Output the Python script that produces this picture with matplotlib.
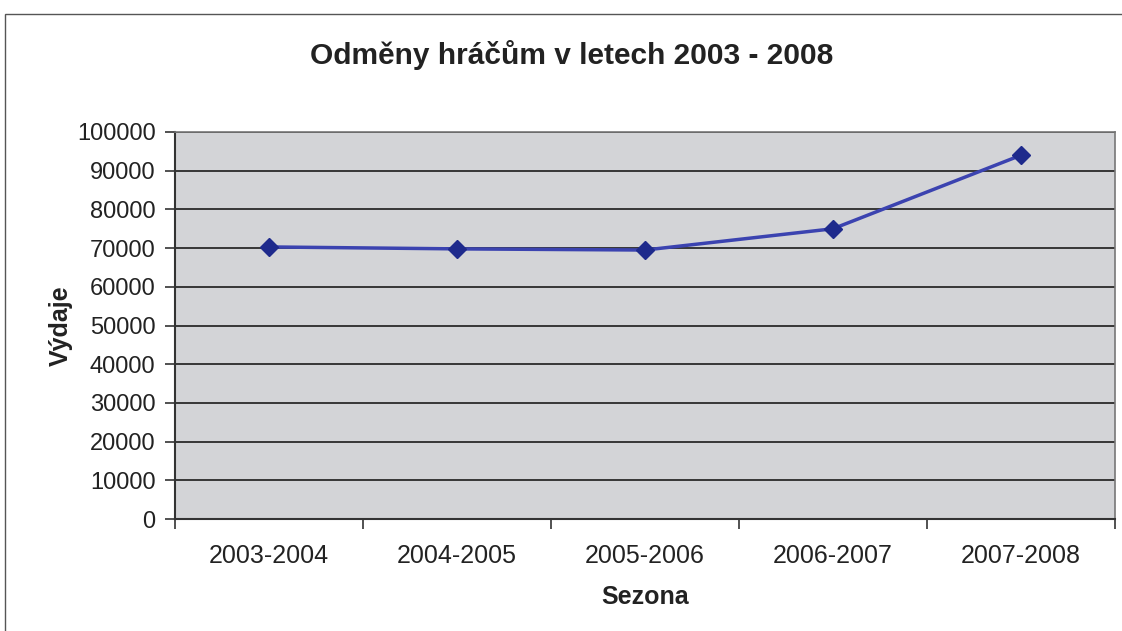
#!/usr/bin/env python
import matplotlib
matplotlib.use ('Agg')
import matplotlib.pyplot as plt
from matplotlib.patches import Rectangle

seasons = ['2003-2004', '2004-2005', '2005-2006', '2006-2007', '2007-2008']
payouts = [70300, 69800, 69500, 75000, 94000]
y_ticks = [0, 10000, 20000, 30000, 40000, 50000, 60000, 70000, 80000, 90000, 100000]


def chart():
  """odmeny hracum 2003 - 2008"""
  plt.rcParams['font.family'] = ['Liberation Sans', 'DejaVu Sans']
  fig = plt.figure (figsize= (11.22, 6.31), dpi= 100)
  fig.patch.set_facecolor ('white')

  # scanned page frame
  fig.patches.append (Rectangle ((5 / 1122, -0.05), 1.2, 1.05 - 14 / 631, transform= fig.transFigure,
                                 fill= False, edgecolor= '#555555', linewidth= 1.0))

  ax = fig.add_axes ([175 / 1122, 112 / 631, 940 / 1122, 387 / 631])
  ax.set_facecolor ('#d3d4d7')
  x = list (range (len (seasons)))
  ax.plot (x, payouts, color= '#3b43b0', linewidth= 2.5, marker= 'D', markersize= 9,
           markerfacecolor= '#1e2a8c', markeredgecolor= '#1e2a8c', zorder= 3)

  ax.set_xlim (-0.5, len (seasons) - 0.5)
  ax.set_ylim (0, 100000)
  ax.set_yticks (y_ticks)
  ax.set_yticklabels ([str (v) for v in y_ticks])
  ax.yaxis.grid (True, color= '#2a2a2a', linewidth= 1.3)
  ax.set_axisbelow (True)

  # category ticks between seasons, labels at centres
  ax.set_xticks ([i - 0.5 for i in range (len (seasons) + 1)])
  ax.set_xticklabels ([])
  ax.set_xticks (x, minor= True)
  ax.set_xticklabels (seasons, minor= True)
  ax.tick_params (axis= 'x', which= 'major', direction= 'out', length= 7, width= 1.2, color= '#333333')
  ax.tick_params (axis= 'x', which= 'minor', length= 0, pad= 18, labelsize= 18, labelcolor= '#222222')
  ax.tick_params (axis= 'y', direction= 'out', length= 7, width= 1.2, color= '#333333',
                  pad= 7, labelsize= 17, labelcolor= '#222222')

  for side in ['top', 'right']:
    ax.spines[side].set_color ('#777777')
    ax.spines[side].set_linewidth (1.2)
  for side in ['left', 'bottom']:
    ax.spines[side].set_color ('#333333')
    ax.spines[side].set_linewidth (1.5)

  ax.set_xlabel ('Sezona', fontsize= 18, fontweight= 'bold', color= '#222222', labelpad= 12)
  ax.set_ylabel ('Výdaje', fontsize= 18, fontweight= 'bold', color= '#222222', labelpad= 3)
  fig.text (572 / 1122, 1 - 55 / 631, 'Odměny hráčům v letech 2003 - 2008', ha= 'center', va= 'center',
            fontsize= 21.5, fontweight= 'bold', color= '#222222')

  fig.savefig ('out.png', dpi= 100, facecolor= 'white')


chart()
